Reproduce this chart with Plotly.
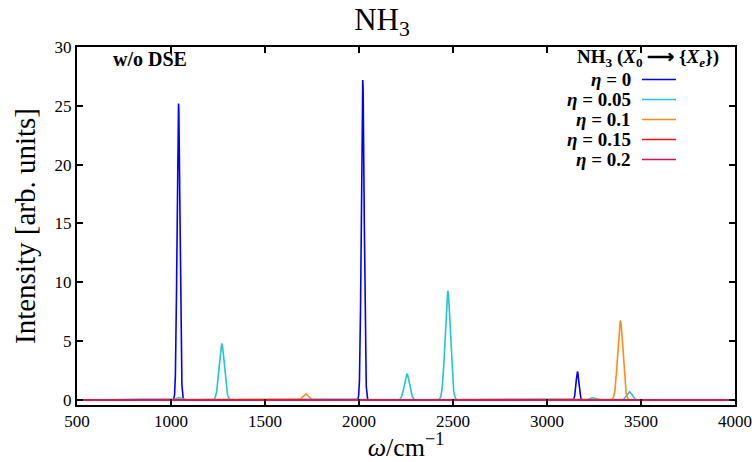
import numpy as np
import plotly.graph_objects as go

# ---- data ----
series_names = ["η = 0", "η = 0.05", "η = 0.1", "η = 0.15", "η = 0.2"]
series_colors = ["#0000ff", "#1fc6cc", "#ff8a1a", "#e8101a", "#dc0c5c"]

# stick spectra: peak positions (cm^-1) and peak heights (arb. units)
eta0_pos = [1040, 2020, 3162]
eta0_int = [25.2, 27.2, 2.4]
eta005_pos = [1040, 1270, 2255, 2472, 3240, 3438, 3618]
eta005_int = [0.2, 4.75, 2.2, 9.25, 0.2, 0.7, 0.05]
eta01_pos = [1717, 2740, 3390, 3750]
eta01_int = [0.5, 0.05, 6.7, 0.05]
eta015_pos = [2235]
eta015_int = [0.03]
eta02_pos = [2235]
eta02_int = [0.0]

# gaussian broadening widths (sigma, cm^-1) per series
widths = [7.5, 14.0, 14.0, 14.0, 14.0]

x_ticks = [500, 1000, 1500, 2000, 2500, 3000, 3500, 4000]
y_ticks = [0, 5, 10, 15, 20, 25, 30]

all_pos = [eta0_pos, eta005_pos, eta01_pos, eta015_pos, eta02_pos]
all_int = [eta0_int, eta005_int, eta01_int, eta015_int, eta02_int]

omega = np.arange(500.0, 4000.5, 0.5)


def spectrum(pos, inten, sig):
    y = np.zeros_like(omega)
    for p, a in zip(pos, inten):
        y += a * np.exp(-0.5 * ((omega - p) / sig) ** 2)
    return y


fig = go.Figure()
for name, col, pos, inten, sig in zip(series_names, series_colors, all_pos, all_int, widths):
    fig.add_trace(go.Scatter(x=omega, y=spectrum(pos, inten, sig), mode="lines",
                             line=dict(color=col, width=1.6), name=name,
                             showlegend=False, hoverinfo="skip"))

W, H = 752, 462
L, R, T, B = 77, 17, 47, 57
pw, ph = W - L - R, H - T - B


def px(xp):
    return (xp - L) / pw


def py(yp):
    return 1 - (yp - T) / ph


SERIF = "Liberation Serif"
NB = "\u00a0"
annotations = []
shapes = []

# legend (gnuplot style: text right-aligned, sample to the right)
annotations.append(dict(x=px(721), y=py(58), xref="paper", yref="paper",
                        xanchor="right", yanchor="middle", showarrow=False,
                        text=f"<b>NH<sub>3</sub>{NB}(<i>X</i><sub>0</sub>{NB}⟶{NB}{{<i>X</i><sub><i>e</i></sub>}})</b>",
                        font=dict(family=SERIF, size=19, color="black")))
for i, (name, col) in enumerate(zip(series_names, series_colors)):
    yy = 79.5 + 20 * i
    eta, val = name.split(" = ")
    annotations.append(dict(x=px(633), y=py(yy), xref="paper", yref="paper",
                            xanchor="right", yanchor="middle", showarrow=False,
                            text=f"<b><i>{eta}</i> = {val}</b>",
                            font=dict(family=SERIF, size=19, color="black")))
    shapes.append(dict(type="line", xref="paper", yref="paper",
                       x0=px(642), x1=px(676), y0=py(yy), y1=py(yy),
                       line=dict(color=col, width=1.6)))

annotations.append(dict(x=px(111), y=py(59), xref="paper", yref="paper",
                        xanchor="left", yanchor="middle", showarrow=False,
                        text="<b>w/o DSE</b>",
                        font=dict(family=SERIF, size=20, color="black")))

fig.update_layout(
    width=W, height=H,
    margin=dict(l=L, r=R, t=T, b=B, autoexpand=False),
    paper_bgcolor="white", plot_bgcolor="white",
    title=dict(text="NH<sub>3</sub>", x=382 / W, xanchor="center",
               y=1 - 19 / H, yanchor="middle",
               font=dict(family=SERIF, size=31, color="black")),
    font=dict(family=SERIF, color="black"),
    annotations=annotations, shapes=shapes,
    showlegend=False,
)
fig.update_xaxes(range=[500, 4000], tickvals=x_ticks, ticktext=[str(v) for v in x_ticks],
                 ticks="inside", ticklen=6, tickwidth=1.5, tickcolor="black",
                 showline=True, linecolor="black", linewidth=2, mirror="ticks",
                 showgrid=False, zeroline=False, automargin=False,
                 ticklabeloverflow="allow",
                 tickfont=dict(family=SERIF, size=17, color="black"),
                 title=dict(text="<i>ω</i>/cm<sup>−1</sup>", standoff=6,
                            font=dict(family=SERIF, size=26, color="black")))
fig.update_yaxes(range=[-0.43, 30], tickvals=y_ticks, ticktext=[str(v) for v in y_ticks],
                 ticks="inside", ticklen=6, tickwidth=1.5, tickcolor="black",
                 showline=True, linecolor="black", linewidth=2, mirror="ticks",
                 showgrid=False, zeroline=False, automargin=False,
                 ticklabeloverflow="allow",
                 tickfont=dict(family=SERIF, size=17, color="black"),
                 title=dict(text="Intensity [arb. units]", standoff=10,
                            font=dict(family=SERIF, size=29, color="black")))

fig.write_html("out.html", config={"displayModeBar": False},
               post_script="document.body.style.margin='0';document.body.style.overflow='hidden';")
